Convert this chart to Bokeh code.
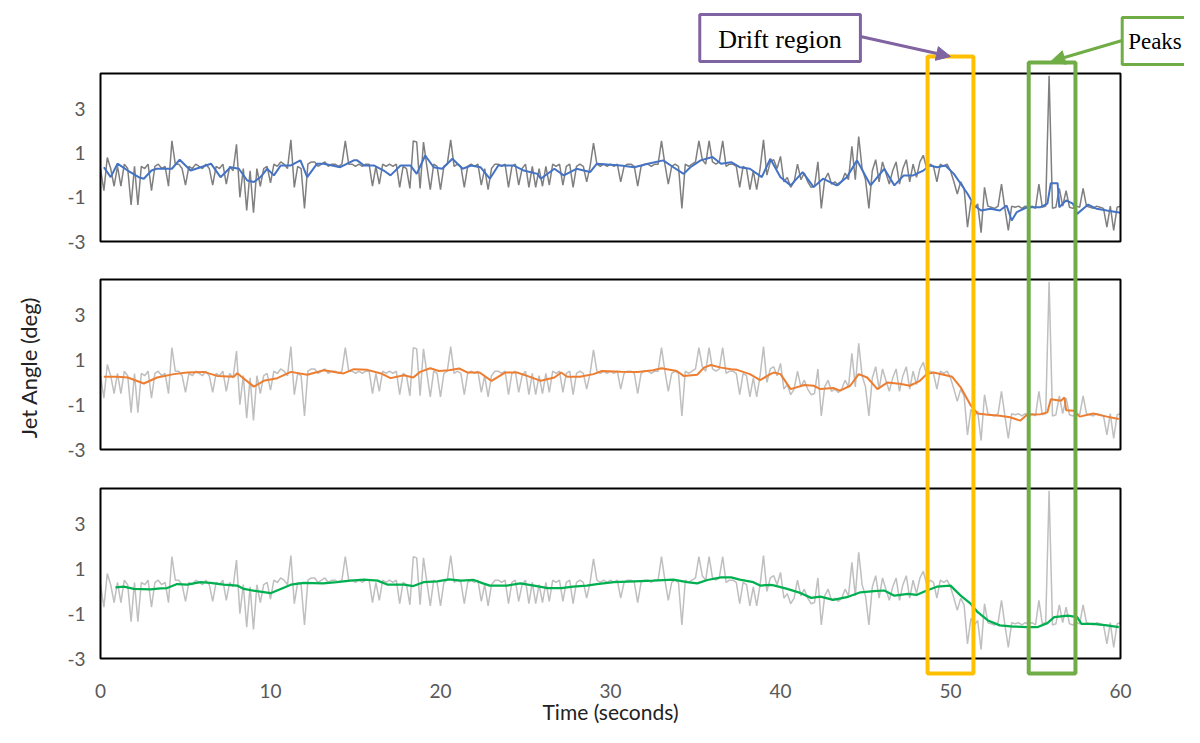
import math
from bokeh.plotting import figure
from bokeh.models import Range1d, Arrow, NormalHead
from bokeh.core.properties import value
from bokeh.embed import file_html
from bokeh.resources import INLINE

# ---------------- data ----------------
# raw jet angle, sampled every 0.2 s from 0 to 60 s (one row per second)
raw = [
    0.3, -0.7, 0.8, 0.3, -0.5,
    0.4, -0.5, 0.5, 0.3, -1.35,
    0.4, -1.35, 0.4, 0.3, 0.5,
    -0.7, 0.4, 0.5, 0.3, 0.4,
    -0.5, 1.55, 0.5, 0.5, 0.3,
    -0.45, 0.4, 0.3, 0.5, 0.4,
    0.3, 0.5, 0.3, -0.45, 0.4,
    0.3, 0.5, -0.4, 0.4, 0.2,
    1.4, -1.0, 0.3, -1.6, 0.2,
    -1.7, 0.3, -0.5, 0.3, 0.4,
    -0.35, 0.5, 0.4, 0.6, 0.5,
    0.3, 1.6, -0.55, 0.4, 0.3,
    -1.5, 0.5, 0.6, 0.6, 0.4,
    0.5, 0.6, 0.4, 0.5, 0.5,
    0.4, 0.5, 1.55, 0.5, 0.5,
    0.4, 0.5, 0.4, 0.5, 0.5,
    -0.5, 0.4, -0.4, 0.5, 0.4,
    0.5, 0.4, 0.5, -0.55, 0.4,
    0.3, -0.6, 1.55, 1.5, -0.6,
    1.5, 0.4, -0.65, 0.5, 0.4,
    -0.65, 0.4, 0.5, 1.6, 0.4,
    0.5, 0.4, -0.55, 0.4, 0.5,
    0.4, 0.5, -0.45, 0.3, -0.65,
    0.3, 0.5, 0.5, 0.4, 0.5,
    -0.55, 0.4, 0.5, -0.45, 0.3,
    0.5, -0.55, 0.4, -0.55, 0.3,
    -0.5, 0.4, -0.45, 0.5, 0.4,
    0.5, -0.45, 0.4, 0.5, -0.55,
    0.4, 0.5, 0.4, -0.3, 0.4,
    1.45, 0.5, 0.4, 0.5, 0.4,
    0.5, 0.4, 0.5, -0.3, 0.4,
    0.5, 0.5, 0.4, -0.5, 0.4,
    0.5, 0.5, 0.4, 0.5, 0.5,
    1.55, 0.5, -0.4, 0.4, 0.5,
    0.4, -1.5, 0.5, 0.4, 0.5,
    0.6, 1.55, 0.7, 0.5, 1.55,
    0.6, 0.5, 0.6, 1.55, 0.4,
    0.5, 0.5, 0.4, -0.55, 0.4,
    0.3, -0.65, 0.2, -0.65, 0.3,
    1.6, 0.0, 0.6, 0.7, 0.3,
    0.85, -0.3, -0.1, -0.55, -0.3,
    0.5, -0.2, 0.1, -0.3, -0.55,
    -0.5, 0.6, -1.5, -0.2, 0.1,
    -0.4, -0.3, -0.45, -0.3, 0.1,
    -0.2, 1.3, -0.2, 1.75, 0.3,
    -0.2, -1.5, 0.2, 0.7, -0.3,
    0.6, 0.1, -0.4, 0.2, 0.6,
    -0.4, 0.3, 0.7, -0.3, 0.5,
    -0.1, 0.6, 0.9, 0.3, 0.5,
    0.4, -0.3, 0.5, 0.4, 0.5,
    0.2, -0.3, -0.85, -0.3, -0.6,
    -2.35, -1.2, -1.5, -1.3, -2.6,
    -0.55, -1.4, -1.45, -1.5, -1.4,
    -0.4, -1.5, -2.5, -1.4, -1.45,
    -1.4, -1.5, -1.4, -1.45, -1.4,
    -1.5, -0.4, -1.45, -1.4, 4.5,
    -1.5, -1.45, -0.6, -1.4, -0.7,
    -1.45, -1.5, -1.4, -1.45, -0.6,
    -1.4, -1.45, -1.5, -1.4, -1.45,
    -1.5, -2.35, -1.4, -2.5, -1.45,
    -1.4,
]
raw_t = [round(i * 0.2, 1) for i in range(len(raw))]

# blue: moving-average filter (top panel)
blue_t = [0.2, 0.6, 1.0, 1.6, 2.25, 2.55, 3.0, 3.3, 4.2, 4.66, 5.3, 5.9, 6.5, 7.06,
          7.65, 8.14, 8.63, 9.02, 9.41, 9.8, 10.2, 10.6, 11.2, 11.76, 12.16, 12.74,
          13.14, 14.1, 14.9, 15.1, 15.5, 16.08, 16.66, 17.06, 17.65, 18.23, 18.6,
          19.1, 19.6, 20.1, 20.7, 21.3, 21.8, 22.35, 22.9, 23.4, 24.3, 24.9, 25.7,
          25.9, 26.7, 27.25, 28.0, 28.8, 29.2, 30.6, 31.4, 32.2, 33.1, 33.7, 34.3,
          34.7, 35.3, 36.0, 36.5, 37.1, 37.6, 38.2, 38.9, 39.4, 40.0, 40.6, 41.3,
          41.95, 42.5, 43.3, 43.9, 44.5, 45.3, 46.1, 46.7, 47.25, 47.8, 48.4, 48.8,
          49.2, 49.7, 50.2, 50.6, 51.0, 51.4, 51.8, 52.35, 52.9, 53.3, 53.6, 53.9,
          54.5, 55.3, 55.7, 55.9, 56.3, 56.4, 56.8, 57.2, 57.45, 58.1, 58.6, 59.2, 60.0]
blue_v = [0.36, -0.09, 0.52, 0.21, -0.09, -0.16, 0.21, 0.29, 0.29, 0.7, 0.21, 0.36, 0.52,
          -0.09, 0.36, 0.29, -0.24, -0.31, -0.09, 0.29, -0.01, 0.44, 0.44, 0.67, -0.09,
          0.52, 0.52, 0.36, 0.67, 0.67, 0.44, 0.44, 0.21, -0.01, 0.44, 0.44, 0.06,
          0.89, 0.36, 0.29, 0.74, 0.29, 0.44, 0.36, -0.16, 0.44, 0.44, 0.21, 0.06,
          -0.16, 0.29, -0.01, 0.29, 0.14, 0.52, 0.44, 0.36, 0.52, 0.67, 0.36, 0.06,
          0.36, 0.67, 0.82, 0.52, 0.59, 0.36, 0.29, -0.09, 0.74, -0.09, -0.46, 0.14,
          -0.54, -0.16, -0.46, -0.09, 0.67, -0.46, 0.29, -0.46, -0.01, -0.01, 0.21, 0.44,
          0.36, 0.44, 0.06, -0.39, -0.84, -1.37, -1.6, -1.52, -1.6, -1.37, -2.05, -1.67,
          -1.45, -1.45, -1.29, -0.36, -0.36, -1.45, -1.14, -1.29, -1.75, -1.33, -1.52, -1.6, -1.7]

# orange: smoother filter (middle panel)
orange_t = [0.2, 1.0, 1.6, 2.55, 3.33, 4.31, 5.1, 6.08, 6.86, 7.84, 8.04, 9.02, 9.6, 10.4,
            11.2, 12.16, 13.14, 14.3, 14.9, 15.7, 16.5, 17.06, 17.84, 18.4, 18.8, 19.4,
            19.9, 20.5, 21.1, 21.6, 22.3, 23.0, 23.8, 24.5, 25.1, 25.9, 26.7, 27.1, 27.45,
            28.2, 29.0, 29.5, 30.6, 31.6, 32.5, 33.0, 33.9, 34.3, 35.1, 35.5, 35.9, 36.5,
            37.1, 37.45, 38.2, 38.8, 39.4, 39.6, 40.0, 40.6, 41.4, 41.95, 42.35, 43.1,
            43.5, 44.1, 44.6, 45.1, 45.7, 46.3, 47.1, 47.6, 48.2, 48.6, 49.0, 49.6, 50.1,
            50.6, 51.2, 51.6, 52.2, 52.9, 53.5, 54.1, 54.5, 55.3, 55.7, 55.9, 56.5, 56.7,
            56.8, 57.25, 57.6, 58.4, 59.2, 59.9]
orange_v = [0.25, 0.25, 0.22, -0.05, 0.22, 0.37, 0.44, 0.47, 0.29, 0.25, 0.41, -0.19, 0.07,
            0.19, 0.47, 0.34, 0.54, 0.40, 0.59, 0.56, 0.40, 0.19, 0.32, 0.22, 0.47, 0.63,
            0.51, 0.54, 0.62, 0.44, 0.44, 0.07, 0.44, 0.44, 0.29, 0.07, 0.22, 0.44, 0.25,
            0.25, 0.37, 0.51, 0.48, 0.47, 0.54, 0.63, 0.51, 0.29, 0.34, 0.66, 0.78, 0.66,
            0.59, 0.56, 0.37, 0.10, 0.37, 0.44, 0.37, -0.30, -0.12, -0.15, -0.30, -0.25,
            -0.37, -0.15, 0.37, 0.22, -0.30, 0.0, -0.07, -0.15, 0.07, 0.37, 0.44, 0.34, 0.25,
            -0.22, -1.04, -1.39, -1.45, -1.49, -1.56, -1.71, -1.45, -1.42, -1.34, -0.75, -0.82,
            -0.67, -1.24, -1.27, -1.53, -1.39, -1.53, -1.64]

# green: smoothest filter (bottom panel)
green_t = [0.88, 1.37, 1.96, 2.94, 3.53, 3.92, 4.51, 5.1, 5.88, 6.47, 7.25, 8.04, 8.43, 9.2,
           10.0, 10.6, 11.2, 11.96, 13.1, 13.9, 14.7, 15.5, 16.3, 16.9, 17.84, 18.4, 19.0,
           19.8, 20.5, 21.2, 21.96, 22.5, 22.9, 23.9, 24.7, 25.5, 26.3, 27.1, 27.8, 28.6,
           29.2, 30.2, 31.0, 32.5, 33.7, 34.5, 35.1, 35.7, 36.5, 37.1, 37.6, 38.4, 38.8,
           39.4, 39.6, 40.4, 41.2, 41.8, 42.35, 43.1, 43.9, 44.7, 45.5, 46.1, 46.7, 47.5,
           48.0, 48.6, 49.2, 50.0, 50.6, 51.2, 51.6, 52.2, 52.9, 53.7, 54.5, 55.1, 55.7,
           56.1, 56.9, 57.45, 57.7, 58.4, 59.2, 59.9]
green_v = [0.18, 0.21, 0.11, 0.09, 0.14, 0.15, 0.33, 0.30, 0.41, 0.38, 0.30, 0.26, 0.11, 0.01,
           -0.08, 0.11, 0.30, 0.38, 0.36, 0.41, 0.48, 0.53, 0.48, 0.30, 0.30, 0.24, 0.41,
           0.45, 0.54, 0.48, 0.51, 0.36, 0.26, 0.26, 0.36, 0.26, 0.15, 0.15, 0.21, 0.26,
           0.33, 0.41, 0.44, 0.48, 0.53, 0.41, 0.36, 0.51, 0.63, 0.63, 0.53, 0.41, 0.26,
           0.29, 0.27, 0.11, -0.08, -0.29, -0.23, -0.38, -0.26, -0.04, 0.01, 0.04, -0.19,
           -0.11, -0.16, 0.04, 0.21, 0.26, -0.19, -0.56, -0.93, -1.30, -1.52, -1.57, -1.60,
           -1.60, -1.42, -1.15, -1.08, -1.15, -1.45, -1.45, -1.52, -1.60]

x_ticks = [0, 10, 20, 30, 40, 50, 60]
y_ticks = [3, 1, -1, -3]
y_min, y_max = -3, 4.6
x_min, x_max = 0, 60

# ---------------- layout (canvas pixels) ----------------
W, H = 1184, 727
PX_PER_S = 17.0
X0_PX = 100                       # pixel of t = 0
panels = [(73, 241), (279, 449), (488, 658)]   # (top, bottom) of each panel box

p = figure(width=W, height=H, output_backend="svg", toolbar_location=None,
           x_range=Range1d(x_min - X0_PX / PX_PER_S, x_min + (W - X0_PX) / PX_PER_S),
           y_range=Range1d(H, 0),  # main range in pixels from the top
           min_border=0, min_border_left=0, min_border_right=0,
           min_border_top=0, min_border_bottom=0)
p.axis.visible = False
p.grid.visible = False
p.outline_line_color = None
p.background_fill_color = "white"
p.border_fill_color = "white"

names = []
for i, (top, bot) in enumerate(panels):
    s = (y_max - y_min) / (bot - top)
    name = f"p{i}"
    p.extra_y_ranges[name] = Range1d(y_min - (H - bot) * s, y_max + top * s)
    names.append(name)

TICK_FONT = value("Lato")
TICK_COLOR = "#595959"

# y tick labels for every panel
for name in names:
    p.text(x=[-15 / PX_PER_S] * len(y_ticks), y=y_ticks, text=[str(v) for v in y_ticks],
           y_range_name=name, text_font=TICK_FONT, text_font_size="19px",
           text_color=TICK_COLOR, text_align="right", text_baseline="middle")
# x tick labels
p.text(x=x_ticks, y=[690] * len(x_ticks), text=[str(v) for v in x_ticks],
       text_font=TICK_FONT, text_font_size="19px", text_color=TICK_COLOR,
       text_align="center", text_baseline="middle")

# data lines
p.line(raw_t, raw, y_range_name=names[0], line_color="#7F7F7F", line_width=1.5)
p.line(blue_t, blue_v, y_range_name=names[0], line_color="#4472C4", line_width=2)
p.line(raw_t, raw, y_range_name=names[1], line_color="#BFBFBF", line_width=1.5)
p.line(orange_t, orange_v, y_range_name=names[1], line_color="#ED7D31", line_width=2)
p.line(raw_t, raw, y_range_name=names[2], line_color="#BFBFBF", line_width=1.5)
p.line(green_t, green_v, y_range_name=names[2], line_color="#00B050", line_width=2.25)

# panel boxes
for name in names:
    p.quad(left=x_min, right=x_max, bottom=y_min, top=y_max, y_range_name=name,
           fill_color=None, line_color="black", line_width=2)

# highlight regions
p.quad(left=48.65, right=51.35, top=56, bottom=673, fill_color=None,
       line_color="#FFC000", line_width=4)
p.quad(left=54.6, right=57.35, top=62, bottom=673, fill_color=None,
       line_color="#70AD47", line_width=4)

PURPLE = "#8064A2"
GREEN = "#70AD47"
# callout boxes
p.quad(left=35.25, right=44.7, top=14, bottom=61, fill_color="white",
       line_color=PURPLE, line_width=3)
p.quad(left=60.1, right=70, top=17, bottom=64, fill_color="white",
       line_color=GREEN, line_width=3)
p.text(x=[39.97], y=[38.5], text=["Drift region"], text_font=value("Liberation Serif"),
       text_font_size="26px", text_align="center", text_baseline="middle", text_color="black")
p.text(x=[60.45], y=[41], text=["Peaks"], text_font=value("Liberation Serif"),
       text_font_size="23px", text_align="left", text_baseline="middle", text_color="black")

p.add_layout(Arrow(x_start=44.7, y_start=36, x_end=50.0, y_end=56,
                   line_color=PURPLE, line_width=3,
                   end=NormalHead(size=14, fill_color=PURPLE, line_color=PURPLE)))
p.add_layout(Arrow(x_start=60.1, y_start=40, x_end=55.9, y_end=61,
                   line_color=GREEN, line_width=3,
                   end=NormalHead(size=14, fill_color=GREEN, line_color=GREEN)))

# axis titles
p.text(x=[-72 / PX_PER_S], y=[367], text=["Jet Angle (deg)"], angle=math.pi / 2,
       text_align="center", text_baseline="middle", text_font=value("Lato"),
       text_font_size="22px", text_color="#222222")
p.text(x=[30.0], y=[711], text=["Time (seconds)"], text_align="center",
       text_baseline="middle", text_font=value("Lato"), text_font_size="21px",
       text_color="#222222")

open("out.html", "w").write(file_html(p, INLINE))
